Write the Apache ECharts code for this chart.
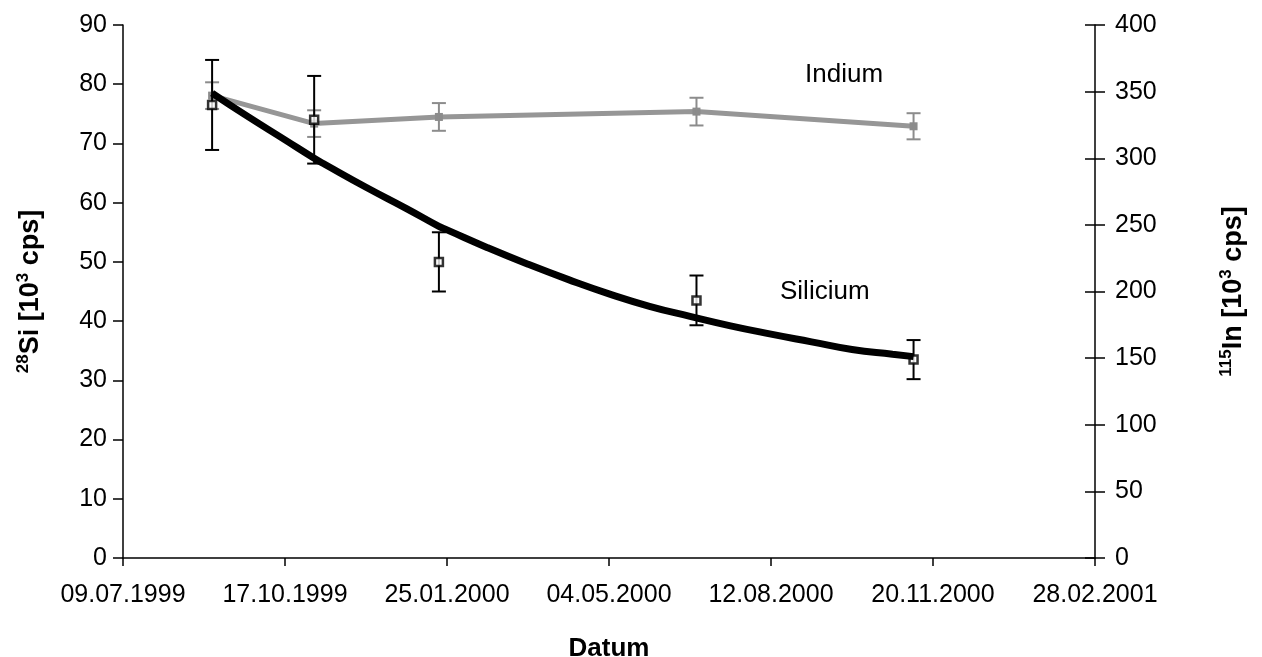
<!DOCTYPE html>
<html><head><meta charset="utf-8">
<script src="https://cdn.jsdelivr.net/npm/echarts@6/dist/echarts.min.js"></script>
<style>html,body{margin:0;padding:0;background:#fff}#c{width:1262px;height:657px}</style>
</head><body><div id="c"></div>
<script>
// ---- data ----
var startDate = '09.07.1999';
var xTickDays = 100;
var dates = ['02.09.1999', '04.11.1999', '20.01.2000', '27.06.2000', '08.11.2000'];
var siValues = [76.5, 74.0, 50.0, 43.5, 33.5];
var siErrors = [7.6, 7.4, 5.0, 4.2, 3.3];
var inValues = [347, 326, 331, 335, 324];
var inErrors = [10, 10, 10.4, 10.4, 9.8];
// fitted Silicium trend line (days after start, value)
var trendDays = [55, 75, 100, 118, 125, 150, 175, 195, 200, 225, 250, 275, 300, 325, 350, 375, 400, 425, 450, 475, 488];
var trendSi = [78.5, 74.9, 70.6, 67.5, 66.4, 62.6, 59.0, 56.0, 55.4, 52.4, 49.6, 47.0, 44.6, 42.5, 40.8, 39.2, 37.8, 36.5, 35.2, 34.4, 34.0];

// ---- helpers ----
function parseD(s){var p=s.split('.');return Date.UTC(+p[2],+p[1]-1,+p[0]);}
var base = parseD(startDate);
function dayOf(s){return Math.round((parseD(s)-base)/86400000);}
function fmt(v){var d=new Date(base+v*86400000);function z(n){return (n<10?'0':'')+n;}return z(d.getUTCDate())+'.'+z(d.getUTCMonth()+1)+'.'+d.getUTCFullYear();}
var xs = dates.map(dayOf);

var siPts = xs.map(function(x,i){return [x, siValues[i]];});
var inPts = xs.map(function(x,i){return [x, inValues[i]];});
var siErr = xs.map(function(x,i){return [x, siValues[i]-siErrors[i], siValues[i]+siErrors[i]];});
var inErr = xs.map(function(x,i){return [x, inValues[i]-inErrors[i], inValues[i]+inErrors[i]];});
var trend = trendDays.map(function(d,i){return [d, trendSi[i]];});

function errRender(color){
  return function(params, api){
    var x = api.value(0);
    var lo = api.coord([x, api.value(1)]);
    var hi = api.coord([x, api.value(2)]);
    var w = 7;
    var st = {stroke: color, lineWidth: 2};
    return {type:'group', children:[
      {type:'line', shape:{x1:lo[0],y1:lo[1],x2:hi[0],y2:hi[1]}, style:st},
      {type:'line', shape:{x1:lo[0]-w,y1:lo[1],x2:lo[0]+w,y2:lo[1]}, style:st},
      {type:'line', shape:{x1:hi[0]-w,y1:hi[1],x2:hi[0]+w,y2:hi[1]}, style:st}
    ]};
  };
}

var FONT = '"Liberation Sans", Arial, sans-serif';
var axisLbl = {color:'#000', fontSize:25, fontFamily:FONT};
var axisLine = {show:true, lineStyle:{color:'#000', width:1.5}};
var rich = {
  m:{fontSize:27, fontWeight:'bold', fontFamily:FONT, color:'#000', lineHeight:32},
  s:{fontSize:17, fontWeight:'bold', fontFamily:FONT, color:'#000', verticalAlign:'top', lineHeight:32, padding:[0,0,10,0]}
};

var chart = echarts.init(document.getElementById('c'), null, {renderer:'canvas'});
chart.setOption({
  backgroundColor:'#fff',
  animation:false,
  grid:{left:123, right:167, top:25, bottom:99, containLabel:false, outerBoundsMode:'none'},
  xAxis:{type:'value', min:0, max:600, interval:xTickDays,
    axisLine:axisLine, axisTick:{show:true, length:8, lineStyle:{color:'#000', width:1.5}},
    splitLine:{show:false},
    axisLabel:Object.assign({formatter:fmt, margin:25}, axisLbl),
    name:'Datum', nameLocation:'middle', nameGap:78,
    nameTextStyle:{fontSize:26, fontWeight:'bold', fontFamily:FONT, color:'#000'}
  },
  yAxis:[
    {type:'value', min:0, max:90, interval:10, position:'left',
     axisLine:axisLine, axisTick:{show:true, length:10, lineStyle:{color:'#000', width:1.5}},
     splitLine:{show:false}, axisLabel:Object.assign({margin:16}, axisLbl),
     name:'{s|28}{m|Si [10}{s|3}{m| cps]}', nameLocation:'middle', nameGap:76, nameRotate:90,
     nameTextStyle:{rich:rich}
    },
    {type:'value', min:0, max:400, interval:50, position:'right',
     axisLine:axisLine, axisTick:{show:true, length:10, lineStyle:{color:'#000', width:1.5}},
     splitLine:{show:false}, axisLabel:Object.assign({margin:20}, axisLbl),
     name:'{s|115}{m|In [10}{s|3}{m| cps]}', nameLocation:'middle', nameGap:123, nameRotate:90,
     nameTextStyle:{rich:rich}
    },
    {type:'value', min:0, max:400, interval:50, position:'right',
     axisLine:{show:false}, axisTick:{show:true, inside:true, length:10, lineStyle:{color:'#000', width:1.5}},
     splitLine:{show:false}, axisLabel:{show:false}
    }
  ],
  series:[
    {type:'line', name:'Indium', yAxisIndex:1, data:inPts, symbol:'rect', symbolSize:8,
     lineStyle:{color:'#969696', width:5}, itemStyle:{color:'#8c8c8c'}, z:3},
    {type:'custom', yAxisIndex:1, data:inErr, renderItem:errRender('#8c8c8c'), z:4},
    {type:'custom', yAxisIndex:0, data:siErr, renderItem:errRender('#000'), z:5},
    {type:'scatter', name:'Silicium', yAxisIndex:0, data:siPts, symbol:'rect', symbolSize:8,
     itemStyle:{color:'#fff', borderColor:'#000', borderWidth:2.5}, z:6},
    {type:'line', yAxisIndex:0, data:trend, smooth:true, symbol:'none',
     lineStyle:{color:'#000', width:7}, z:7}
  ],
  graphic:[
    {type:'text', left:805, top:62, style:{text:'Indium', fontSize:26, fontFamily:FONT, fill:'#000'}},
    {type:'text', left:780, top:279, style:{text:'Silicium', fontSize:26, fontFamily:FONT, fill:'#000'}}
  ]
});
</script></body></html>
